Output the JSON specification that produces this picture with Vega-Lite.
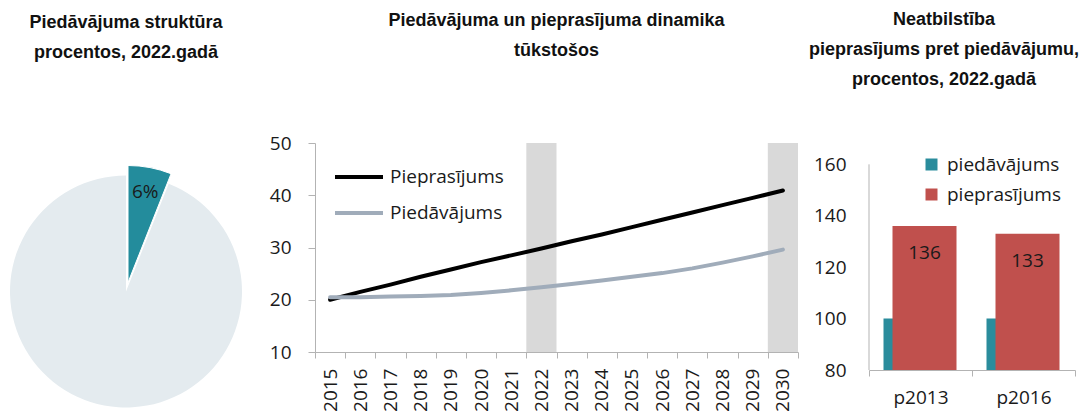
{
  "$schema": "https://vega.github.io/schema/vega-lite/v6.json",
  "padding": {"left": 0, "top": 11, "right": 0, "bottom": 0},
  "spacing": 9,
  "background": "white",
  "config": {
    "view": {"stroke": null},
    "font": "Open Sans",
    "title": {"font": "Liberation Sans", "fontSize": 18, "fontWeight": "bold", "color": "#111111", "lineHeight": 30, "anchor": "middle"},
    "axis": {"labelFont": "Open Sans", "labelFontSize": 19, "labelColor": "#1a1a1a", "domainColor": "#b3b3b3", "tickColor": "#b3b3b3", "grid": false},
    "legend": {"labelFont": "Open Sans", "labelFontSize": 19, "labelColor": "#1a1a1a", "padding": 0}
  },
  "resolve": {"scale": {"color": "independent"}, "legend": {"color": "independent"}},
  "hconcat": [
    {
      "width": 260,
      "height": 297,
      "title": {"text": ["Piedāvājuma struktūra", "procentos, 2022.gadā"], "offset": 81, "dx": -4},
      "data": {"values": [
        {"dala": "atlasītā", "procenti": 6, "uzraksts": "6%"},
        {"dala": "pārējā", "procenti": 94, "uzraksts": ""}
      ]},
      "encoding": {
        "theta": {"field": "procenti", "type": "quantitative", "stack": true},
        "order": {"field": "procenti", "sort": "ascending"}
      },
      "layer": [
        {"mark": {"type": "arc", "radius": 116, "xOffset": -4, "fill": "#e4ebef"},
         "encoding": {"opacity": {"condition": {"test": "datum.procenti > 50", "value": 1}, "value": 0}}},
        {"mark": {"type": "arc", "radius": 117, "xOffset": -2, "yOffset": -9, "fill": "#238c9c", "stroke": "white", "strokeWidth": 1},
         "encoding": {"opacity": {"condition": {"test": "datum.procenti < 50", "value": 1}, "value": 0}}},
        {"mark": {"type": "text", "radius": 92, "xOffset": -2, "yOffset": -9, "fontSize": 19, "color": "#1a1a1a"},
         "encoding": {"text": {"field": "uzraksts"}}}
      ]
    },
    {
      "width": 483,
      "height": 209,
      "title": {"text": ["Piedāvājuma un pieprasījuma dinamika", "tūkstošos"], "offset": 74},
      "layer": [
        {
          "data": {"values": [{"gads": "2022"}, {"gads": "2030"}]},
          "mark": {"type": "bar", "color": "#d9d9d9"},
          "encoding": {
            "x": {"field": "gads", "type": "ordinal", "scale": {"type": "band", "paddingInner": 0, "paddingOuter": 0},
                  "axis": {"title": null, "labelAngle": -90, "tickBand": "extent", "tickSize": 6, "labelPadding": 10, "labelFontSize": 19}}
          }
        },
        {
          "data": {"values": [
            {"gads": "2015", "raditajs": "Pieprasījums", "vertiba": 20.0},
            {"gads": "2016", "raditajs": "Pieprasījums", "vertiba": 21.5},
            {"gads": "2017", "raditajs": "Pieprasījums", "vertiba": 22.9},
            {"gads": "2018", "raditajs": "Pieprasījums", "vertiba": 24.4},
            {"gads": "2019", "raditajs": "Pieprasījums", "vertiba": 25.8},
            {"gads": "2020", "raditajs": "Pieprasījums", "vertiba": 27.2},
            {"gads": "2021", "raditajs": "Pieprasījums", "vertiba": 28.5},
            {"gads": "2022", "raditajs": "Pieprasījums", "vertiba": 29.8},
            {"gads": "2023", "raditajs": "Pieprasījums", "vertiba": 31.2},
            {"gads": "2024", "raditajs": "Pieprasījums", "vertiba": 32.5},
            {"gads": "2025", "raditajs": "Pieprasījums", "vertiba": 33.9},
            {"gads": "2026", "raditajs": "Pieprasījums", "vertiba": 35.3},
            {"gads": "2027", "raditajs": "Pieprasījums", "vertiba": 36.7},
            {"gads": "2028", "raditajs": "Pieprasījums", "vertiba": 38.1},
            {"gads": "2029", "raditajs": "Pieprasījums", "vertiba": 39.5},
            {"gads": "2030", "raditajs": "Pieprasījums", "vertiba": 40.9},
            {"gads": "2015", "raditajs": "Piedāvājums", "vertiba": 20.5},
            {"gads": "2016", "raditajs": "Piedāvājums", "vertiba": 20.5},
            {"gads": "2017", "raditajs": "Piedāvājums", "vertiba": 20.6},
            {"gads": "2018", "raditajs": "Piedāvājums", "vertiba": 20.7},
            {"gads": "2019", "raditajs": "Piedāvājums", "vertiba": 20.9},
            {"gads": "2020", "raditajs": "Piedāvājums", "vertiba": 21.3},
            {"gads": "2021", "raditajs": "Piedāvājums", "vertiba": 21.8},
            {"gads": "2022", "raditajs": "Piedāvājums", "vertiba": 22.4},
            {"gads": "2023", "raditajs": "Piedāvājums", "vertiba": 23.0},
            {"gads": "2024", "raditajs": "Piedāvājums", "vertiba": 23.7},
            {"gads": "2025", "raditajs": "Piedāvājums", "vertiba": 24.4},
            {"gads": "2026", "raditajs": "Piedāvājums", "vertiba": 25.1},
            {"gads": "2027", "raditajs": "Piedāvājums", "vertiba": 26.0},
            {"gads": "2028", "raditajs": "Piedāvājums", "vertiba": 27.1},
            {"gads": "2029", "raditajs": "Piedāvājums", "vertiba": 28.3},
            {"gads": "2030", "raditajs": "Piedāvājums", "vertiba": 29.6}
          ]},
          "mark": {"type": "line", "strokeWidth": 4, "strokeCap": "round"},
          "encoding": {
            "x": {"field": "gads", "type": "ordinal", "bandPosition": 0.5, "scale": {"type": "band", "paddingInner": 0, "paddingOuter": 0},
                  "axis": {"title": null, "labelAngle": -90, "tickBand": "extent", "tickSize": 6, "labelPadding": 10, "labelFontSize": 19}},
            "y": {"field": "vertiba", "type": "quantitative", "scale": {"domain": [10, 50], "nice": false, "zero": false},
                  "axis": {"title": null, "values": [10, 20, 30, 40, 50], "tickSize": 7, "labelPadding": 17}},
            "color": {"field": "raditajs", "type": "nominal",
                      "scale": {"domain": ["Pieprasījums", "Piedāvājums"], "range": ["#000000", "#a0acba"]},
                      "legend": {"title": null, "orient": "none", "legendX": 18, "legendY": 8, "symbolType": "stroke", "symbolSize": 2304, "symbolStrokeWidth": 4, "rowPadding": -13, "labelOffset": 5}}
          }
        }
      ]
    },
    {
      "width": 206,
      "height": 227,
      "title": {"text": ["Neatbilstība", "pieprasījums pret piedāvājumu,", "procentos, 2022.gadā"], "offset": 54, "dx": -28},
      "data": {"values": [
        {"periods": "p2013", "raditajs": "piedāvājums", "procenti": 100},
        {"periods": "p2013", "raditajs": "pieprasījums", "procenti": 136},
        {"periods": "p2016", "raditajs": "piedāvājums", "procenti": 100},
        {"periods": "p2016", "raditajs": "pieprasījums", "procenti": 133}
      ]},
      "encoding": {
        "x": {"field": "periods", "type": "nominal", "scale": {"type": "band", "paddingInner": 0, "paddingOuter": 0},
              "axis": {"title": null, "labelAngle": 0, "tickBand": "extent", "tickSize": 6, "labelPadding": 12}},
        "y": {"field": "procenti", "type": "quantitative", "scale": {"domain": [80, 168.3], "nice": false, "zero": false},
              "axis": {"title": null, "values": [80, 100, 120, 140, 160], "domain": false, "ticks": false, "labelPadding": 23}}
      },
      "layer": [
        {
          "transform": [{"filter": "datum.raditajs == 'piedāvājums'"}],
          "mark": {"type": "bar", "width": 64, "xOffset": -5},
          "encoding": {
            "y2": {"datum": 80},
            "color": {"field": "raditajs", "type": "nominal",
            "scale": {"domain": ["piedāvājums", "pieprasījums"], "range": ["#2a8c9c", "#c0504d"]},
            "legend": {"title": null, "orient": "none", "legendX": 53, "legendY": 12, "symbolType": "square", "symbolSize": 144, "symbolStrokeWidth": 0, "rowPadding": 10, "labelOffset": 6}}}
        },
        {
          "transform": [{"filter": "datum.raditajs == 'pieprasījums'"}],
          "mark": {"type": "bar", "width": 64, "xOffset": 4},
          "encoding": {
            "y2": {"datum": 80},
            "color": {"field": "raditajs", "type": "nominal",
            "scale": {"domain": ["piedāvājums", "pieprasījums"], "range": ["#2a8c9c", "#c0504d"]},
            "legend": {"title": null, "orient": "none", "legendX": 53, "legendY": 12, "symbolType": "square", "symbolSize": 144, "symbolStrokeWidth": 0, "rowPadding": 10, "labelOffset": 6}}}
        },
        {
          "transform": [{"filter": "datum.raditajs == 'pieprasījums'"}],
          "mark": {"type": "text", "xOffset": 4, "dy": 27, "fontSize": 19, "color": "#1a1a1a"},
          "encoding": {"text": {"field": "procenti", "type": "quantitative"}}
        },
        {
          "data": {"values": [{"no": 80, "lidz": 160}]},
          "mark": {"type": "rule", "color": "#b3b3b3"},
          "encoding": {
            "x": {"datum": "p2013", "type": "nominal", "bandPosition": 0},
            "y": {"field": "no", "type": "quantitative"},
            "y2": {"field": "lidz"}
          }
        }
      ]
    }
  ]
}
